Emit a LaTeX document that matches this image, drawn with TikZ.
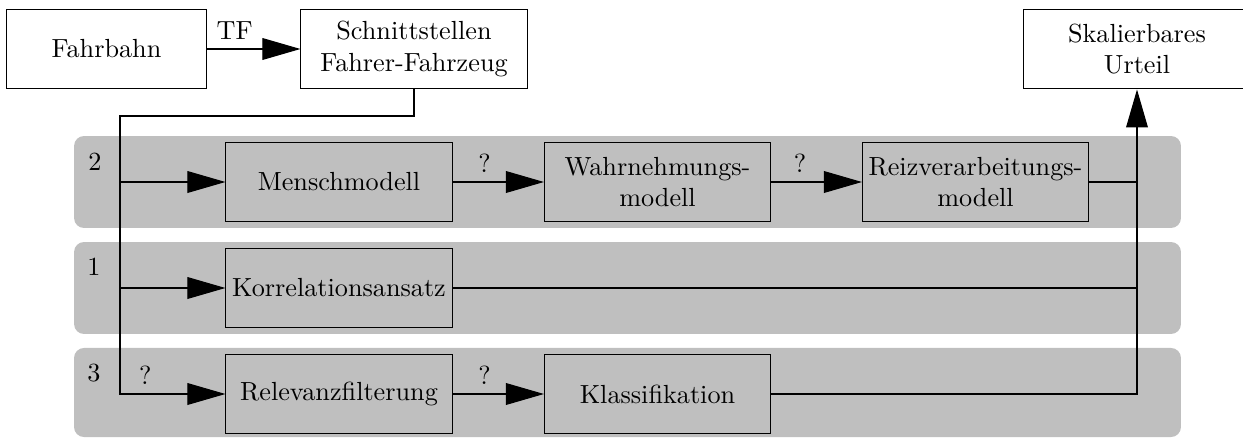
\documentclass[tikz,border=0pt]{standalone}
\usepackage{amsmath}
\usetikzlibrary{arrows.meta}

\begin{document}
\begin{tikzpicture}[x=0.3817pt, y=-0.3817pt,
	block/.style={shape=rectangle, draw=black, fill=gray!50, minimum width=86.3pt, minimum height=30.5pt, inner xsep=1pt, align=center},
	band/.style={shape=rectangle, fill=gray!50, rounded corners=3.8pt, minimum width=422.5pt, minimum height=35.1pt},
	pfeil/.style={-{Triangle[length=14.5pt,width=8.3pt]}}]

	\useasboundingbox (0,0) rectangle (1243,439);

	\node[band] (ebeneZwei) at (627.5,182) {};
	\node[band] (ebeneEins) at (627.5,288) {};
	\node[band, minimum height=34pt] (ebeneDrei) at (627.5,392.5) {};

	\node (nrZwei) at (95,162) {2};
	\node (nrEins) at (94,267) {1};
	\node (nrDrei) at (94,373) {3};

	\node[block, fill=white, minimum width=76pt] (fahrbahn) at (106.5,49) {Fahrbahn};
	\node[block, fill=white] (schnitt) at (414,49) {Schnittstellen\\Fahrer-Fahrzeug};
	\node[block, fill=white] (urteil) at (1137,49) {Skalierbares\\Urteil};

	\node[block] (mensch) at (339,182) {Menschmodell};
	\node[block] (wahrn) at (657.5,182) {Wahrnehmungs-\\modell};
	\node[block] (reiz) at (975.5,182) {Reizverarbeitungs-\\modell};
	\node[block] (korr) at (339,288) {Korrelationsansatz};
	\node[block] (relevanz) at (339,394) {Relevanzfilterung};
	\node[block] (klass) at (657.5,394) {Klassifikation};

	\coordinate (abzweig) at (120,116);

	\draw[pfeil] (fahrbahn.east) -- node[pos=0.3, above]{TF} (schnitt.west);
	\draw[pfeil] (schnitt.south) |- (abzweig) |- (relevanz.west) node[pos=0.62, above]{?};
	\draw[pfeil] (abzweig |- mensch.west) -- (mensch.west);
	\draw[pfeil] (abzweig |- korr.west) -- (korr.west);
	\draw[pfeil] (mensch.east) -- node[pos=0.35, above]{?} (wahrn.west);
	\draw[pfeil] (wahrn.east) -- node[pos=0.32, above]{?} (reiz.west);
	\draw[pfeil] (relevanz.east) -- node[pos=0.35, above]{?} (klass.west);
	\draw[pfeil] (klass.east) -| (urteil.south);
	\draw (reiz.east) -- (reiz.east -| urteil.south);
	\draw (korr.east) -- (korr.east -| urteil.south);

\end{tikzpicture}
\end{document}
